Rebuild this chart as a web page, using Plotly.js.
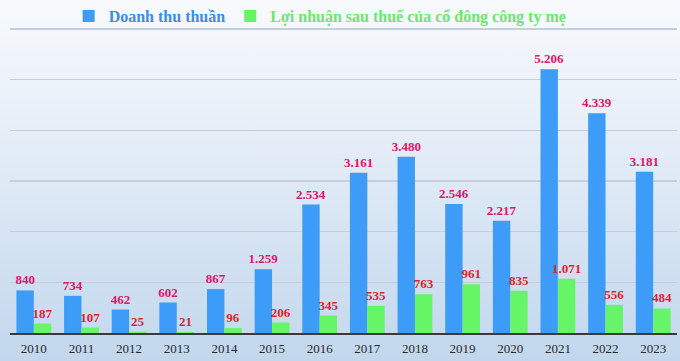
<!DOCTYPE html>
<html>
<head>
<meta charset="utf-8">
<script src="https://cdn.plot.ly/plotly-3.0.1.min.js"></script>
<style>
html,body{margin:0;padding:0;}
body{width:680px;height:361px;overflow:hidden;
background:linear-gradient(to bottom,#f8fafd 0%,#e4edf7 40%,#d0e0f1 75%,#c2d7ed 100%);}
#chart{width:680px;height:361px;}
</style>
</head>
<body>
<div id="chart"></div>
<script>
const years = ['2010','2011','2012','2013','2014','2015','2016','2017','2018','2019','2020','2021','2022','2023'];
const revenue = [840,734,462,602,867,1259,2534,3161,3480,2546,2217,5206,4339,3181];
const profit = [187,107,25,21,96,206,345,535,763,961,835,1071,556,484];
const seriesNames = ['Doanh thu thuần','Lợi nhuận sau thuế của cổ đông công ty mẹ'];

const serif = 'Liberation Serif, Times New Roman, serif';

const traces = [
  {
    type:'bar', x:years, y:revenue,
    name:'<span style="color:#3a8ee6"><b>'+seriesNames[0]+'</b></span>',
    marker:{color:'#3d9cf7'},
    texttemplate:'%{y:,}', textposition:'outside', constraintext:'none', cliponaxis:false,
    textfont:{family:serif, size:13, color:'#e0156b', weight:'bold'},
    hoverinfo:'y'
  },
  {
    type:'bar', x:years, y:profit,
    name:'<span style="color:#6ee66e"><b>'+seriesNames[1]+'</b></span>',
    marker:{color:'#66f566'},
    texttemplate:'%{y:,}', textposition:'outside', constraintext:'none', cliponaxis:false,
    textfont:{family:serif, size:13, color:'#e21f2d', weight:'bold'},
    hoverinfo:'y'
  }
];

const layout = {
  width:680, height:361,
  margin:{l:10, r:3, t:28, b:28, autoexpand:false},
  paper_bgcolor:'rgba(0,0,0,0)',
  plot_bgcolor:'rgba(0,0,0,0)',
  separators:',.',
  barmode:'group',
  bargap:0.27,
  bargroupgap:0,
  font:{family:serif, color:'#333'},
  showlegend:true,
  legend:{orientation:'h', x:0.465, xanchor:'center', y:1.095, yanchor:'top',
          font:{family:serif, size:16}, itemwidth:30, bgcolor:'rgba(0,0,0,0)', traceorder:'normal'},
  xaxis:{type:'category', showline:true, linecolor:'#3a3a3a', linewidth:2,
         ticks:'outside', ticklen:2, tickcolor:'rgba(0,0,0,0)',
         tickfont:{family:serif, size:13, color:'#2a2a2a'}, showgrid:false, fixedrange:true},
  yaxis:{range:[0,6020], dtick:1000, showticklabels:false, showgrid:true,
         gridcolor:'#c5ced9', gridwidth:1.5, zeroline:false, showline:false, fixedrange:true}
};

Plotly.newPlot('chart', traces, layout, {displayModeBar:false, staticPlot:true});
</script>
</body>
</html>
